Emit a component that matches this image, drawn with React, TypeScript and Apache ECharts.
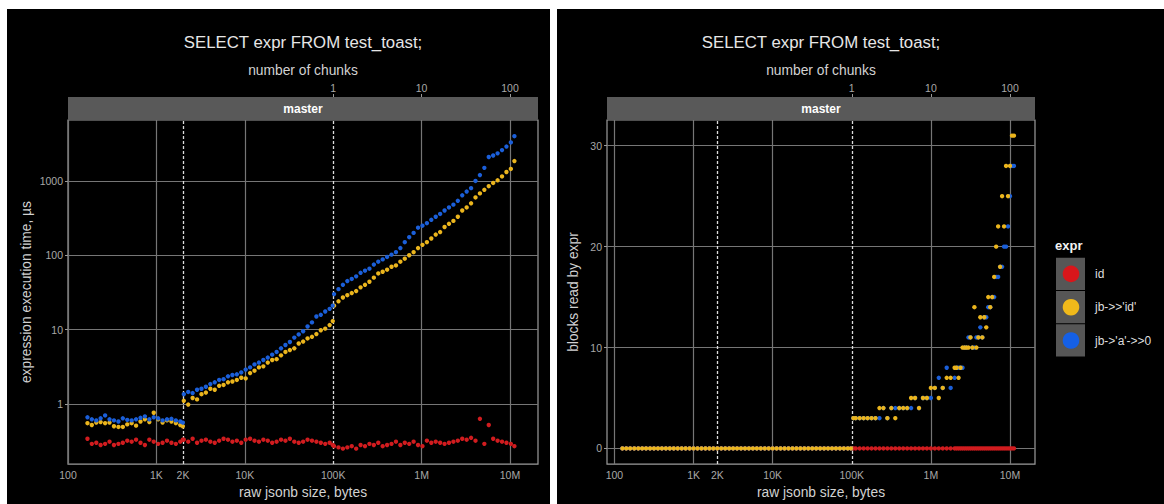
import React, { useEffect, useRef } from 'react';
import * as echarts from 'echarts';

// ---------- tick / axis data ----------
const xTickBytes = [100, 1000, 2000, 10000, 100000, 1000000, 10000000];
const xTickLabels = ['100', '1K', '2K', '10K', '100K', '1M', '10M'];
const xGridBytes = [100, 1000, 10000, 1000000, 10000000];
const xDashedBytes = [2000, 100000];
const chunkTickBytes = [100000, 1000000, 10000000];
const chunkTickLabels = ['1', '10', '100'];
const timeTicks = [1, 10, 100, 1000];
const timeTickLabels = ['1', '10', '100', '1000'];
const blockTicks = [0, 10, 20, 30];
const seriesNames = ['id', "jb->>'id'", "jb->'a'->>0"];
const seriesColors = ['#d11c1f', '#ebb51d', '#1b5fd9'];
const legendColors = ['#d8161b', '#f0b91a', '#1560e6'];

// ---------- left panel: expression execution time, µs ----------
const leftSizes = [
  166, 186, 209, 234, 263, 295, 331, 372, 417, 468, 525, 589, 661, 741, 832, 933, 1047, 1175, 1318, 1479, 1660, 1862, 1990,
  2042, 2291, 2570, 2884, 3236, 3631, 4074, 4571, 5129, 5754, 6457, 7244, 8128, 9120, 10233, 11482, 12882, 14454, 16218,
  18197, 20417, 22909, 25704, 28840, 32359, 36308, 40738, 45709, 51286, 57544, 64565, 72444, 81283, 91201, 98855,
  102329, 114815, 128825, 144544, 162181, 181970, 204174, 229087, 257040, 288403, 323594, 363078, 407380, 457088,
  512861, 575440, 645654, 724436, 812831, 912011, 1023293, 1148154, 1288250, 1445440, 1621810, 1819701, 2041738,
  2290868, 2570396, 2884032, 3235937, 3630781, 4073803, 4570882, 5128614, 5754399, 6456542, 7244360, 8128305,
  9120108, 10232930, 11220185,
];
const leftId = [
  0.34, 0.29, 0.30, 0.28, 0.29, 0.31, 0.28, 0.29, 0.30, 0.32, 0.31, 0.33, 0.30, 0.28, 0.33, 0.31, 0.29, 0.30, 0.32, 0.30, 0.29, 0.31, 0.33,
  0.33, 0.31, 0.34, 0.30, 0.32, 0.33, 0.31, 0.30, 0.32, 0.34, 0.33, 0.31, 0.32, 0.30, 0.33, 0.34, 0.32, 0.31, 0.33, 0.32,
  0.30, 0.31, 0.33, 0.32, 0.34, 0.31, 0.30, 0.31, 0.33, 0.32, 0.31, 0.30, 0.29, 0.30, 0.28,
  0.27, 0.26, 0.25, 0.26, 0.27, 0.25, 0.28, 0.27, 0.29, 0.28, 0.30, 0.27, 0.28, 0.29, 0.31, 0.28, 0.30, 0.29, 0.31, 0.28,
  0.27, 0.32, 0.30, 0.31, 0.30, 0.29, 0.30, 0.31, 0.32, 0.34, 0.33, 0.35, 0.32, 0.63, 0.29, 0.52, 0.34, 0.32, 0.31, 0.30,
  0.29, 0.27,
];
const leftJbId = [
  0.55, 0.52, 0.56, 0.57, 0.55, 0.56, 0.50, 0.49, 0.49, 0.53, 0.55, 0.51, 0.58, 0.62, 0.57, 0.76, 0.62, 0.56, 0.60, 0.58, 0.55, 0.52, 0.50,
  1.10, 0.98, 1.20, 1.15, 1.35, 1.42, 1.60, 1.55, 1.75, 1.80, 1.95, 2.00, 2.10, 2.25, 2.20, 2.60, 2.80, 3.10, 3.20, 3.60,
  3.90, 4.00, 4.50, 5.00, 5.30, 5.60, 6.50, 6.90, 7.60, 8.00, 8.70, 9.80, 10.3, 11.5, 13.0,
  21, 24, 27, 29, 31, 33, 37, 40, 44, 50, 57, 60, 64, 70, 73, 82, 90, 100, 110, 125,
  138, 150, 168, 190, 205, 240, 265, 290, 330, 400, 440, 500, 600, 680, 760, 850, 940, 1020, 1150, 1320,
  1450, 1850,
];
const leftJbA = [
  0.66, 0.62, 0.60, 0.64, 0.70, 0.62, 0.60, 0.58, 0.64, 0.61, 0.60, 0.62, 0.65, 0.68, 0.62, 0.66, 0.64, 0.60, 0.62, 0.63, 0.60, 0.58, 0.56,
  1.35, 1.45, 1.40, 1.55, 1.60, 1.70, 1.85, 1.95, 2.10, 2.15, 2.35, 2.45, 2.50, 2.65, 2.90, 3.10, 3.40, 3.60, 3.90, 4.20,
  4.60, 5.00, 5.60, 6.20, 6.80, 7.80, 8.60, 9.50, 11.0, 12.5, 15.0, 15.8, 17.5, 19.0, 21.0,
  30, 35, 40, 45, 48, 52, 58, 62, 66, 75, 82, 88, 95, 102, 110, 125, 150, 175, 200, 235,
  250, 270, 300, 330, 360, 400, 440, 480, 540, 640, 720, 800, 1000, 1200, 1500, 2100, 2200, 2350, 2600, 2900,
  3300, 4000,
];

// ---------- right panel: blocks read by expr ----------
const rightSizes = [
  126, 141, 158, 178, 200, 224, 251, 282, 316, 355, 398, 447, 501, 562, 631, 708, 794, 891, 1000, 1122,
  1259, 1413, 1585, 1778, 1995, 2239, 2512, 2818, 3162, 3548, 3981, 4467, 5012, 5623, 6310, 7079, 7943, 8913,
  10000, 11220, 12589, 14125, 15849, 17783, 19953, 22387, 25119, 28184, 31623, 35481, 39811, 44668, 50119,
  56234, 63096, 70795, 79433, 89125, 97724, 104713,
  112202, 125893, 141254, 158489, 177828, 199526, 223872, 251189, 281838, 316228, 354813, 398107, 446684,
  501187, 562341, 630957, 707946, 794328, 891251, 1000000, 1122018, 1258925, 1412538, 1584893, 1778279, 1995262,
  2113489, 2238721, 2371374, 2511886, 2660725, 2818383, 2985383, 3162278, 3349654, 3548134, 3758374, 3981072,
  4216965, 4466836, 4731513, 5011872, 5308844, 5623413, 5956621, 6309573, 6683439, 7079458, 7498942, 7943282,
  8413951, 8912509, 9440609, 10000000, 10592537, 11220185,
];
const rightId = [
  0, 0, 0, 0, 0, 0, 0, 0, 0, 0, 0, 0, 0, 0, 0, 0, 0, 0, 0, 0, 0, 0, 0, 0, 0, 0, 0, 0, 0, 0,
  0, 0, 0, 0, 0, 0, 0, 0, 0, 0, 0, 0, 0, 0, 0, 0, 0, 0, 0, 0, 0, 0, 0, 0, 0, 0, 0, 0, 0, 0,
  0, 0, 0, 0, 0, 0, 0, 0, 0, 0, 0, 0, 0, 0, 0, 0, 0, 0, 0, 0, 0, 0, 0, 0, 0, 0, 0, 0, 0, 0,
  0, 0, 0, 0, 0, 0, 0, 0, 0, 0, 0, 0, 0, 0, 0, 0, 0, 0, 0, 0, 0, 0, 0, 0, 0, 0,
];
const rightJbId = [
  0, 0, 0, 0, 0, 0, 0, 0, 0, 0, 0, 0, 0, 0, 0, 0, 0, 0, 0, 0, 0, 0, 0, 0, 0, 0, 0, 0, 0, 0,
  0, 0, 0, 0, 0, 0, 0, 0, 0, 0, 0, 0, 0, 0, 0, 0, 0, 0, 0, 0, 0, 0, 0, 0, 0, 0, 0, 0, 0,
  3, 3, 3, 3, 3, 3, 3, 4, 4, 3, 4, 3, 4, 4, 4, 5, 5, 4, 5, 5, 6, 6, 5, 6, 7, 7, 8,
  8, 7, 8, 10, 10, 10, 10, 11, 10, 14, 10, 11, 13, 11, 13, 12, 15, 14, 15, 17, 20, 22, 18, 25, 22, 28, 25, 28, 31, 31,
];
const rightJbA = [
  0, 0, 0, 0, 0, 0, 0, 0, 0, 0, 0, 0, 0, 0, 0, 0, 0, 0, 0, 0, 0, 0, 0, 0, 0, 0, 0, 0, 0, 0,
  0, 0, 0, 0, 0, 0, 0, 0, 0, 0, 0, 0, 0, 0, 0, 0, 0, 0, 0, 0, 0, 0, 0, 0, 0, 0, 0, 0, 0,
  3, 3, 3, 3, 3, 3, 3, 3, 4, 3, 4, 4, 4, 4, 4, 4, 5, 4, 5, 5, 5, 6, 7, 6, 8, 6, 7,
  8, 8, 8, 8, 10, 10, 11, 11, 10, 10, 11, 11, 12, 11, 13, 13, 14, 14, 15, 15, 17, 17, 18, 18, 20, 20, 22, 25, 28, 28,
];

const FONT = "'Liberation Sans', Arial, Helvetica, sans-serif";
const lg = Math.log10;
const labelFor = (vals: number[], labels: string[], tf: (v: number) => number) => (v: number) => {
  const i = vals.findIndex((b) => Math.abs(tf(b) - v) < 1e-6);
  return i >= 0 ? labels[i] : '';
};

const tickColor = '#9a9a9a';
const labelColor = '#a8a8a8';
const nameColor = '#d2d2d2';
const gridStyle = { color: '#767676', width: 1.2, type: 'solid' };
const dashStyle = { color: '#dcdcdc', width: 1.3, type: [3, 2] };

const LX = [2, 7.317];
const RX = [1.906, 7.316];

function bottomAxis(gridIndex: number, ext: number[]) {
  return {
    type: 'value', gridIndex, min: ext[0], max: ext[1], position: 'bottom',
    axisLine: { show: false }, splitLine: { show: false },
    axisTick: { show: true, customValues: xTickBytes.map(lg), length: 3, lineStyle: { color: tickColor } },
    axisLabel: {
      customValues: xTickBytes.map(lg), formatter: labelFor(xTickBytes, xTickLabels, lg),
      color: labelColor, fontSize: 10.5, margin: 5, fontFamily: FONT,
    },
    name: 'raw jsonb size, bytes', nameLocation: 'middle', nameGap: 17,
    nameTextStyle: { color: nameColor, fontSize: 13.8, fontFamily: FONT },
  };
}
function topAxis(gridIndex: number, ext: number[]) {
  return {
    type: 'value', gridIndex, min: ext[0], max: ext[1], position: 'top', offset: 23,
    axisLine: { show: false }, splitLine: { show: false },
    axisTick: { show: true, customValues: chunkTickBytes.map(lg), length: 3, lineStyle: { color: tickColor } },
    axisLabel: {
      customValues: chunkTickBytes.map(lg), formatter: labelFor(chunkTickBytes, chunkTickLabels, lg),
      color: labelColor, fontSize: 10.5, margin: 4, fontFamily: FONT,
    },
    name: 'number of chunks', nameLocation: 'middle', nameGap: 18,
    nameTextStyle: { color: nameColor, fontSize: 13.8, fontFamily: FONT },
  };
}

function scatter(idx: number, xAxisIndex: number, yAxisIndex: number, data: number[][], z: number, markLine?: any) {
  const s: any = {
    type: 'scatter', name: seriesNames[idx], xAxisIndex, yAxisIndex, data,
    symbol: 'circle', symbolSize: 4.4, z,
    itemStyle: { color: seriesColors[idx], opacity: 1 },
    emphasis: { disabled: true }, silent: true,
  };
  if (markLine) s.markLine = markLine;
  return s;
}

function gridLines(vx: number[], vy: number[]) {
  return {
    silent: true, symbol: ['none', 'none'], label: { show: false }, emphasis: { disabled: true }, z: 1, animation: false,
    data: [
      ...vx.map((v) => ({ xAxis: v, lineStyle: gridStyle })),
      ...vy.map((v) => ({ yAxis: v, lineStyle: gridStyle })),
      ...xDashedBytes.map((b) => ({ xAxis: lg(b), lineStyle: dashStyle })),
    ],
  };
}

const leftData = (vals: number[]) => leftSizes.map((s, i) => [lg(s), lg(vals[i])]);
const rightData = (vals: number[]) => rightSizes.map((s, i) => [lg(s), vals[i]]);

const txt = (x: number, y: number, text: string, size: number, fill: string, align = 'center', weight = 'normal') => ({
  type: 'text', x, y, silent: true,
  style: {
    text, fill, fontSize: size, fontFamily: FONT, fontWeight: weight,
    align, verticalAlign: 'middle', textAlign: align, textVerticalAlign: 'middle',
  },
});
const rect = (x: number, y: number, w: number, h: number, fill: string) => ({
  type: 'rect', silent: true, shape: { x, y, width: w, height: h }, style: { fill },
});

const keyTops = [257.7, 291, 324.3];
const legendEls: any[] = [txt(1055, 245, 'expr', 13, '#f2f2f2', 'left', 'bold')];
seriesNames.forEach((n, i) => {
  legendEls.push(rect(1056, keyTops[i], 29, 32.3, '#565656'));
  legendEls.push({
    type: 'circle', silent: true, shape: { cx: 1071, cy: keyTops[i] + 16.2, r: 8.3 },
    style: { fill: legendColors[i] },
  });
  legendEls.push(txt(1095, keyTops[i] + 16.2, n, 12, '#dedede', 'left'));
});

const option: any = {
  animation: false,
  backgroundColor: '#000',
  grid: [
    { left: 68, top: 120, width: 470, height: 356, show: true, backgroundColor: '#000', borderColor: '#9c9c9c', borderWidth: 1.2 },
    { left: 607, top: 120, width: 428, height: 352.6, show: true, backgroundColor: '#000', borderColor: '#9c9c9c', borderWidth: 1.2 },
  ],
  xAxis: [bottomAxis(0, LX), topAxis(0, LX), bottomAxis(1, RX), topAxis(1, RX)],
  yAxis: [
    {
      type: 'value', gridIndex: 0, min: -0.81, max: 3.82,
      axisLine: { show: false }, splitLine: { show: false },
      axisTick: { show: true, customValues: timeTicks.map(lg), length: 3, lineStyle: { color: tickColor } },
      axisLabel: {
        customValues: timeTicks.map(lg), formatter: labelFor(timeTicks, timeTickLabels, lg),
        color: labelColor, fontSize: 10.5, margin: 5, fontFamily: FONT,
      },
      name: 'expression execution time, µs', nameLocation: 'middle', nameGap: 35, nameRotate: 90,
      nameTextStyle: { color: nameColor, fontSize: 13.8, fontFamily: FONT },
    },
    {
      type: 'value', gridIndex: 1, min: -1.55, max: 32.55,
      axisLine: { show: false }, splitLine: { show: false },
      axisTick: { show: true, customValues: blockTicks, length: 3, lineStyle: { color: tickColor } },
      axisLabel: {
        customValues: blockTicks, formatter: (v: number) => String(Math.round(v)),
        color: labelColor, fontSize: 10.5, margin: 5, fontFamily: FONT,
      },
      name: 'blocks read by expr', nameLocation: 'middle', nameGap: 27, nameRotate: 90,
      nameTextStyle: { color: nameColor, fontSize: 13.8, fontFamily: FONT },
    },
  ],
  series: [
    scatter(0, 0, 0, leftData(leftId), 2, gridLines(xGridBytes.map(lg), timeTicks.map(lg))),
    scatter(1, 0, 0, leftData(leftJbId), 3),
    scatter(2, 0, 0, leftData(leftJbA), 4),
    scatter(0, 2, 1, rightData(rightId), 2, gridLines(xGridBytes.map(lg), blockTicks)),
    scatter(2, 2, 1, rightData(rightJbA), 3),
    scatter(1, 2, 1, rightData(rightJbId), 4),
  ],
  graphic: {
    elements: [
      rect(0, 0, 1164, 9, '#fff'),
      rect(0, 0, 7, 504, '#fff'),
      rect(550, 0, 7, 504, '#fff'),
      rect(68, 97, 470, 23, '#595959'),
      rect(607, 97, 428, 23, '#595959'),
      txt(303, 108.5, 'master', 12, '#ffffff', 'center', 'bold'),
      txt(821, 108.5, 'master', 12, '#ffffff', 'center', 'bold'),
      txt(303, 42, 'SELECT expr FROM test_toast;', 16.8, '#e6e6e6'),
      txt(821, 42, 'SELECT expr FROM test_toast;', 16.8, '#e6e6e6'),
      ...legendEls,
    ],
  },
};

export default function App() {
  const ref = useRef<HTMLDivElement>(null);
  useEffect(() => {
    if (!ref.current) return;
    const chart = echarts.init(ref.current, null, { renderer: 'svg' });
    chart.setOption(option);
    return () => chart.dispose();
  }, []);
  return <div ref={ref} style={{ position: 'fixed', left: 0, top: 0, width: 1164, height: 504 }} />;
}
